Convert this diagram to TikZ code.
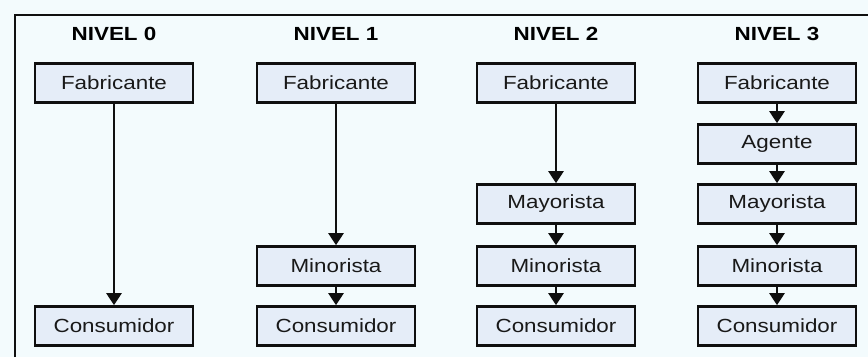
\documentclass[tikz,border=0pt]{standalone}
\usepackage{fontspec}
\setmainfont{Liberation Sans}[FakeStretch=1.18]
\usetikzlibrary{arrows.meta}
\definecolor{bgc}{RGB}{243,251,253}
\definecolor{boxc}{RGB}{229,237,248}
\definecolor{linec}{RGB}{15,15,15}
\tikzset{
  chbox/.style={draw=linec, line width=2.6pt, fill=boxc, minimum width=158pt, minimum height=39pt, inner sep=0pt, font=\fontsize{19}{21}\selectfont, text=black!90},
  ttl/.style={font=\fontsize{19}{21}\selectfont\bfseries, text=black},
  arr/.style={draw=linec, line width=2.4pt, -{Triangle[width=15pt,length=12pt]}}
}
\begin{document}
\begin{tikzpicture}[x=1pt,y=-1pt]
\useasboundingbox[fill=bgc] (0,0) rectangle (868,357);
\draw[linec, line width=2.6pt] (15,357) -- (15,15) -- (868,15);
% titles
\node[ttl] (t0) at (114,34) {NIVEL 0};
\node[ttl] (t1) at (336,34) {NIVEL 1};
\node[ttl] (t2) at (556,34) {NIVEL 2};
\node[ttl] (t3) at (777,34) {NIVEL 3};
% column 0
\node[chbox] (f0) at (114,83) {Fabricante};
\node[chbox] (c0) at (114,326) {Consumidor};
\draw[arr] (f0) -- (c0);
% column 1
\node[chbox] (f1) at (336,83) {Fabricante};
\node[chbox] (mi1) at (336,266) {Minorista};
\node[chbox] (c1) at (336,326) {Consumidor};
\draw[arr] (f1) -- (mi1);
\draw[arr] (mi1) -- (c1);
% column 2
\node[chbox] (f2) at (556,83) {Fabricante};
\node[chbox] (ma2) at (556,204) {Mayorista};
\node[chbox] (mi2) at (556,266) {Minorista};
\node[chbox] (c2) at (556,326) {Consumidor};
\draw[arr] (f2) -- (ma2);
\draw[arr] (ma2) -- (mi2);
\draw[arr] (mi2) -- (c2);
% column 3
\node[chbox] (f3) at (777,83) {Fabricante};
\node[chbox] (a3) at (777,144) {Agente};
\node[chbox] (ma3) at (777,204) {Mayorista};
\node[chbox] (mi3) at (777,266) {Minorista};
\node[chbox] (c3) at (777,326) {Consumidor};
\draw[arr] (f3) -- (a3);
\draw[arr] (a3) -- (ma3);
\draw[arr] (ma3) -- (mi3);
\draw[arr] (mi3) -- (c3);
\end{tikzpicture}
\end{document}
